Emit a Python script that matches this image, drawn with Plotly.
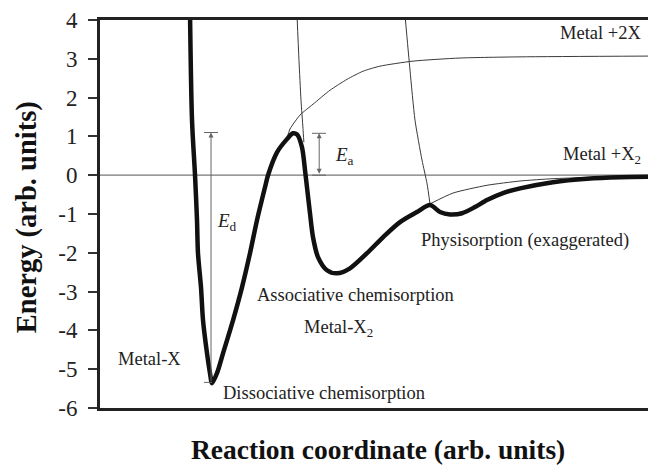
import plotly.graph_objects as go

# Reaction coordinate (arb. units, 0..10) and energy (arb. units)
thick_x = [1.642, 1.679, 1.734, 1.770, 1.788, 1.843, 1.880, 1.953, 2.007, 2.044, 2.135, 2.245, 2.427,
           2.591, 2.737, 2.865, 3.011, 3.066, 3.230, 3.412, 3.522, 3.595, 3.686, 3.741, 3.777, 3.832,
           3.887, 3.978, 4.142, 4.325, 4.562, 4.872, 5.164, 5.474, 5.785, 6.022, 6.204, 6.387, 6.606,
           6.843, 7.062, 7.354, 7.664, 8.266, 8.887, 9.489, 10.0]
thick_y = [4.25, 1.42, 0.0, -1.16, -2.01, -2.89, -3.74, -4.59, -5.10, -5.36, -5.10, -4.59, -3.74,
           -2.89, -2.01, -1.16, -0.31, 0.0, 0.59, 0.93, 1.08, 1.05, 0.72, 0.13, -0.31, -0.98,
           -1.60, -2.11, -2.45, -2.53, -2.40, -2.01, -1.60, -1.21, -0.95, -0.77, -0.95, -1.01, -0.98,
           -0.82, -0.64, -0.46, -0.34, -0.18, -0.09, -0.05, -0.04]

atomic_x = [3.412, 3.467, 3.650, 3.887, 4.197, 4.507, 4.799, 5.109, 5.712, 6.569, 7.664, 10.0]
atomic_y = [0.95, 1.19, 1.55, 1.83, 2.19, 2.47, 2.68, 2.81, 2.94, 3.02, 3.05, 3.07]

molwall_x = [3.595, 3.631, 3.668, 3.704, 3.720]
molwall_y = [4.12, 2.96, 1.93, 1.21, 0.85]

physwall_x = [5.566, 5.657, 5.748, 5.876, 5.967, 6.022]
physwall_y = [4.12, 2.71, 1.42, 0.39, -0.21, -0.74]

molcont_x = [6.022, 6.442, 7.062, 7.664, 8.266, 9.124, 9.489]
molcont_y = [-0.74, -0.46, -0.26, -0.15, -0.09, -0.05, -0.046]

y_ticks = [-6, -5, -4, -3, -2, -1, 0, 1, 2, 3, 4]
y_tick_text = ["-6", "-5", "-4", "-3", "-2", "-1", "0", "1", "2", "3", "4"]

E_d_bottom, E_d_top, E_d_x = -5.34, 1.10, 2.026
E_a_bottom, E_a_top, E_a_x = 0.0, 1.08, 4.0

FONT = "Liberation Serif"


def px2x(px):
    return (px - 100) / 54.8


def py2y(py):
    return (175 - py) / 38.8


fig = go.Figure()
thin = dict(color="#3a3a3a", width=1)
for xs, ys in [(atomic_x, atomic_y), (molwall_x, molwall_y), (physwall_x, physwall_y), (molcont_x, molcont_y)]:
    fig.add_trace(go.Scatter(x=xs, y=ys, mode="lines", line=dict(shape="spline", smoothing=0.6, **thin),
                             hoverinfo="skip", showlegend=False))
fig.add_trace(go.Scatter(x=thick_x, y=thick_y, mode="lines",
                         line=dict(color="#111111", width=4.5, shape="spline", smoothing=0.8),
                         hoverinfo="skip", showlegend=False))

gray = dict(color="#666666", width=1)
shapes = [
    dict(type="line", xref="x", yref="y", x0=0, x1=10, y0=0, y1=0, line=dict(color="#777777", width=1.2), layer="below"),
    dict(type="line", xref="x", yref="y", x0=px2x(204), x1=px2x(218), y0=E_d_top, y1=E_d_top, line=gray),
    dict(type="line", xref="x", yref="y", x0=px2x(204), x1=px2x(212), y0=E_d_bottom, y1=E_d_bottom, line=gray),
    dict(type="line", xref="x", yref="y", x0=px2x(312), x1=px2x(326), y0=E_a_top, y1=E_a_top, line=gray),
    dict(type="line", xref="x", yref="y", x0=px2x(312), x1=px2x(326), y0=E_a_bottom, y1=E_a_bottom, line=gray),
]

ann = []
ann.append(dict(x=E_d_x, y=E_d_top, ax=E_d_x, ay=E_d_bottom, xref="x", yref="y", axref="x", ayref="y",
                text="", showarrow=True, arrowhead=2, arrowsize=1, arrowwidth=1, arrowcolor="#666666", standoff=0))
ann.append(dict(x=E_a_x, y=E_a_top, ax=E_a_x, ay=E_a_bottom, xref="x", yref="y", axref="x", ayref="y",
                text="", showarrow=True, arrowhead=2, startarrowhead=2, arrowside="end+start", arrowsize=1,
                arrowwidth=1, arrowcolor="#666666", standoff=0, startstandoff=0))


def label(text, px, py, xanchor="left", size=18.5):
    ann.append(dict(x=px2x(px), y=py2y(py), xref="x", yref="y", text=text, showarrow=False,
                    xanchor=xanchor, yanchor="middle", font=dict(family=FONT, size=size, color="#222222")))


label("Metal +2X", 643, 33, "right")
label("Metal +X<sub>2</sub>", 643, 155, "right")
label("<i>E</i><sub>a</sub>", 333, 156, "left", 19)
label("<i>E</i><sub>d</sub>", 215, 222, "left", 19)
label("Physisorption (exaggerated)", 419, 240)
label("Associative chemisorption", 255, 295)
label("Metal-X<sub>2</sub>", 302, 328)
label("Metal-X", 116, 359)
label("Dissociative chemisorption", 221, 393)

ann.append(dict(x=0.507, y=-0.108, xref="paper", yref="paper", text="<b>Reaction coordinate (arb. units)</b>",
                showarrow=False, xanchor="center", yanchor="middle", font=dict(family=FONT, size=27.5, color="#111111")))
ann.append(dict(x=-0.133, y=0.492, xref="paper", yref="paper", text="<b>Energy (arb. units)</b>", textangle=-90,
                showarrow=False, xanchor="center", yanchor="middle", font=dict(family=FONT, size=28.5, color="#111111")))

fig.update_layout(
    width=648, height=465,
    margin=dict(l=100, r=0, t=20, b=57),
    paper_bgcolor="white", plot_bgcolor="white",
    shapes=shapes, annotations=ann,
    xaxis=dict(range=[0, 10], showticklabels=False, ticks="", showgrid=False, zeroline=False,
               showline=True, linewidth=3, linecolor="#222222", mirror=True),
    yaxis=dict(range=[-6, 4], tickvals=y_ticks, ticktext=y_tick_text, ticks="outside", ticklen=9, tickwidth=1.5,
               tickcolor="#333333", showgrid=False, zeroline=False, showline=True, linewidth=3,
               linecolor="#222222", mirror=False,
               tickfont=dict(family=FONT, size=23, color="#222222"), ticklabelstandoff=6),
)

fig.write_html("out.html", config={"displayModeBar": False},
               post_script="document.body.style.margin='0px';")
